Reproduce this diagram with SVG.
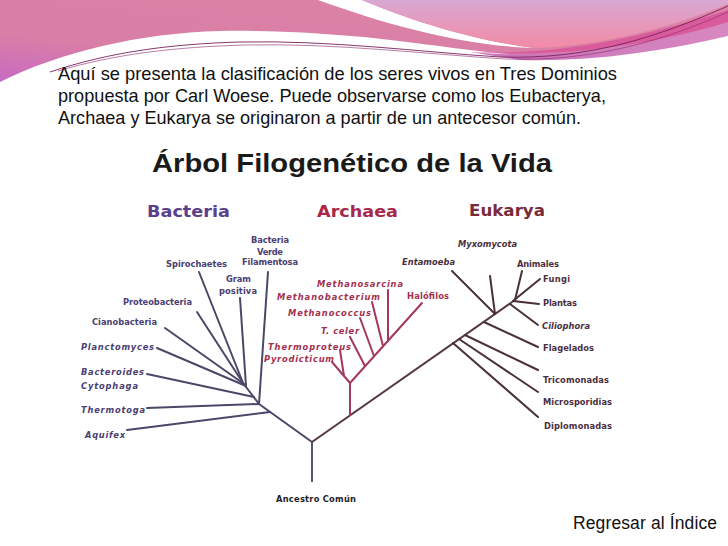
<svg xmlns="http://www.w3.org/2000/svg" width="728" height="546" viewBox="0 0 728 546">
<defs>
<linearGradient id="gPink" x1="0" y1="1" x2="1" y2="0">
<stop offset="0" stop-color="#c86ac2"/>
<stop offset="0.3" stop-color="#d97ea6"/>
<stop offset="1" stop-color="#dc84a6"/>
</linearGradient>
<linearGradient id="gLav" x1="0" y1="0" x2="0" y2="1">
<stop offset="0" stop-color="#d8a8d2"/>
<stop offset="1" stop-color="#f38aa6"/>
</linearGradient>
<linearGradient id="gOrch" x1="0" y1="0" x2="1" y2="0">
<stop offset="0" stop-color="#c870b8"/>
<stop offset="1" stop-color="#d888c0"/>
</linearGradient>
<style>
.body{font-family:"Liberation Sans",Arial,sans-serif;font-size:18.5px;fill:#111}
.lbl{font-family:"DejaVu Sans",Verdana,sans-serif;font-size:8.3px;font-weight:bold}
.it{font-style:italic}
.bac{fill:#4b4072}
.arc{fill:#a3304f}
.euk{fill:#4a3040}
.dom{font-family:"DejaVu Sans",Verdana,sans-serif;font-size:15.5px;font-weight:bold}
.lb{stroke:#4a4868;stroke-width:2;fill:none;stroke-linecap:round}
.la{stroke:#a4385a;stroke-width:2;fill:none;stroke-linecap:round}
.le{stroke:#4a3038;stroke-width:2;fill:none;stroke-linecap:round}
</style>
</defs>
<rect width="728" height="546" fill="#ffffff"/>
<g id="banner">
<path d="M0,0 H728 V32 C680,42 620,54 560,56 C500,57 450,46 364,37 C320,33 270,30 220,31 C140,33 60,52 0,82 Z" fill="url(#gPink)"/>
<path d="M470,52 C560,60 640,46 728,22 V36 C660,52 590,62 520,60 Z" fill="url(#gOrch)"/>
<path d="M318,0 H362 C410,20 470,40 535,48 C465,46 390,26 318,0 Z" fill="#ffffff"/>
<path d="M362,0 H728 V4 C670,28 600,46 535,48 C470,40 410,20 362,0 Z" fill="url(#gLav)"/>
<path d="M470,52 C570,56 650,34 728,10 V22 C650,46 560,58 470,52 Z" fill="#d8559a" opacity="0.85"/>
<path d="M50,72 C110,52 170,44 240,42 C330,40 420,52 500,57 C590,60 660,36 728,6" fill="none" stroke="#7a2060" stroke-width="0.9"/>
<path d="M58,71 C115,54 175,47 245,45 C335,43 425,54 505,59 C595,62 665,40 728,12" fill="none" stroke="#8a2a6a" stroke-width="0.6"/>
</g>
<g id="intro">
<text class="body" x="58" y="80" textLength="559" lengthAdjust="spacingAndGlyphs">Aquí se presenta la clasificación de los seres vivos en Tres Dominios</text>
<text class="body" x="58" y="102" textLength="548" lengthAdjust="spacingAndGlyphs">propuesta por Carl Woese. Puede observarse como los Eubacterya,</text>
<text class="body" x="58" y="124" textLength="523" lengthAdjust="spacingAndGlyphs">Archaea y Eukarya se originaron a partir de un antecesor común.</text>
</g>
<g id="title">
<text x="152" y="172" font-family="'Liberation Sans',Arial,sans-serif" font-size="25" font-weight="bold" fill="#1a1a1a" textLength="400" lengthAdjust="spacingAndGlyphs">Árbol Filogenético de la Vida</text>
</g>
<g id="domain-bacteria"><text class="dom" x="147" y="217" fill="#5b3f8e" textLength="83" lengthAdjust="spacingAndGlyphs">Bacteria</text></g>
<g id="domain-archaea"><text class="dom" x="317" y="217" fill="#a8284a" textLength="81" lengthAdjust="spacingAndGlyphs">Archaea</text></g>
<g id="domain-eukarya"><text class="dom" x="469" y="216" fill="#7a2a3a" textLength="76" lengthAdjust="spacingAndGlyphs">Eukarya</text></g>

<g id="connectors">
<path d="M312,482 V442" stroke="#5a5570" stroke-width="2" fill="none"/>
<path d="M312,442 L259,404 L243,383" stroke="#4a4868" stroke-width="2" fill="none" stroke-linejoin="round"/>
<path d="M312,442 L515,300" stroke="#553545" stroke-width="2" fill="none"/>
<line class="lb" x1="268" y1="272" x2="259" y2="404"/>
<line class="lb" x1="240" y1="298" x2="246" y2="386"/>
<line class="lb" x1="199" y1="272" x2="243" y2="383"/>
<line class="lb" x1="197" y1="312" x2="243" y2="383"/>
<line class="lb" x1="165" y1="328" x2="244" y2="384"/>
<line class="lb" x1="157" y1="348" x2="246" y2="386"/>
<line class="lb" x1="147" y1="374" x2="254" y2="397"/>
<line class="lb" x1="147" y1="408" x2="259" y2="404"/>
<line class="lb" x1="127" y1="430" x2="270" y2="412"/>
<line class="la" x1="350" y1="415" x2="350" y2="383"/>
<path class="la" d="M332,362 L350,383 L422,303" stroke-linejoin="round"/>
<line class="la" x1="340" y1="350" x2="344" y2="376"/>
<line class="la" x1="350" y1="337" x2="365" y2="366"/>
<line class="la" x1="360" y1="318" x2="374" y2="356"/>
<line class="la" x1="372" y1="302" x2="383" y2="346"/>
<line class="la" x1="388" y1="290" x2="388" y2="341"/>
<line class="le" x1="453" y1="343" x2="538" y2="417"/>
<line class="le" x1="459" y1="339" x2="538" y2="392"/>
<line class="le" x1="465" y1="335" x2="538" y2="370"/>
<line class="le" x1="484" y1="322" x2="538" y2="347"/>
<line class="le" x1="452" y1="271" x2="495" y2="314"/>
<line class="le" x1="490" y1="276" x2="495" y2="314"/>
<line class="le" x1="510" y1="304" x2="538" y2="325"/>
<line class="le" x1="513" y1="301" x2="539" y2="304"/>
<line class="le" x1="513" y1="301" x2="540" y2="279"/>
<line class="le" x1="515" y1="300" x2="522" y2="271"/>
</g>

<g id="n-bvf"><text class="lbl bac" x="251" y="243" textLength="38">Bacteria</text><text class="lbl bac" x="257" y="255" textLength="26">Verde</text><text class="lbl bac" x="242" y="265" textLength="56">Filamentosa</text></g>
<g id="n-spirochaetes"><text class="lbl bac" x="166" y="267" textLength="61">Spirochaetes</text></g>
<g id="n-gram"><text class="lbl bac" x="226" y="282" textLength="25">Gram</text><text class="lbl bac" x="219" y="294" textLength="38">positiva</text></g>
<g id="n-proteobacteria"><text class="lbl bac" x="123" y="305" textLength="69">Proteobacteria</text></g>
<g id="n-cianobacteria"><text class="lbl bac" x="92" y="325" textLength="65">Cianobacteria</text></g>
<g id="n-planctomyces"><text class="lbl bac it" x="81" y="350" textLength="73">Planctomyces</text></g>
<g id="n-bacteroides"><text class="lbl bac it" x="81" y="375" textLength="63">Bacteroides</text><text class="lbl bac it" x="81" y="389" textLength="57">Cytophaga</text></g>
<g id="n-thermotoga"><text class="lbl bac it" x="81" y="413" textLength="64">Thermotoga</text></g>
<g id="n-aquifex"><text class="lbl bac it" x="85" y="438" textLength="40">Aquifex</text></g>

<g id="n-methanosarcina"><text class="lbl arc it" x="317" y="287" textLength="86">Methanosarcina</text></g>
<g id="n-methanobacterium"><text class="lbl arc it" x="277" y="300" textLength="103">Methanobacterium</text></g>
<g id="n-methanococcus"><text class="lbl arc it" x="288" y="316" textLength="83">Methanococcus</text></g>
<g id="n-tceler"><text class="lbl arc it" x="321" y="334" textLength="38">T. celer</text></g>
<g id="n-thermoproteus"><text class="lbl arc it" x="268" y="350" textLength="83">Thermoproteus</text></g>
<g id="n-pyrodicticum"><text class="lbl arc it" x="264" y="362" textLength="70">Pyrodicticum</text></g>
<g id="n-halofilos"><text class="lbl arc" x="407" y="299" textLength="42">Halófilos</text></g>

<g id="n-myxomycota"><text class="lbl euk it" x="458" y="247" textLength="59">Myxomycota</text></g>
<g id="n-entamoeba"><text class="lbl euk it" x="402" y="265" textLength="53">Entamoeba</text></g>
<g id="n-animales"><text class="lbl euk" x="517" y="267" textLength="42">Animales</text></g>
<g id="n-fungi"><text class="lbl euk" x="543" y="282" textLength="27">Fungi</text></g>
<g id="n-plantas"><text class="lbl euk" x="543" y="306" textLength="34">Plantas</text></g>
<g id="n-ciliophora"><text class="lbl euk it" x="542" y="329" textLength="48">Ciliophora</text></g>
<g id="n-flagelados"><text class="lbl euk" x="543" y="351" textLength="51">Flagelados</text></g>
<g id="n-tricomonadas"><text class="lbl euk" x="543" y="383" textLength="66">Tricomonadas</text></g>
<g id="n-microsporidias"><text class="lbl euk" x="543" y="405" textLength="69">Microsporidias</text></g>
<g id="n-diplomonadas"><text class="lbl euk" x="544" y="429" textLength="68">Diplomonadas</text></g>

<g id="n-ancestro"><text class="lbl" x="276" y="502" fill="#222" textLength="80">Ancestro Común</text></g>
<g id="link-indice"><text x="573" y="529" font-family="'Liberation Sans',Arial,sans-serif" font-size="17.5" fill="#111" textLength="144">Regresar al Índice</text></g>
</svg>
